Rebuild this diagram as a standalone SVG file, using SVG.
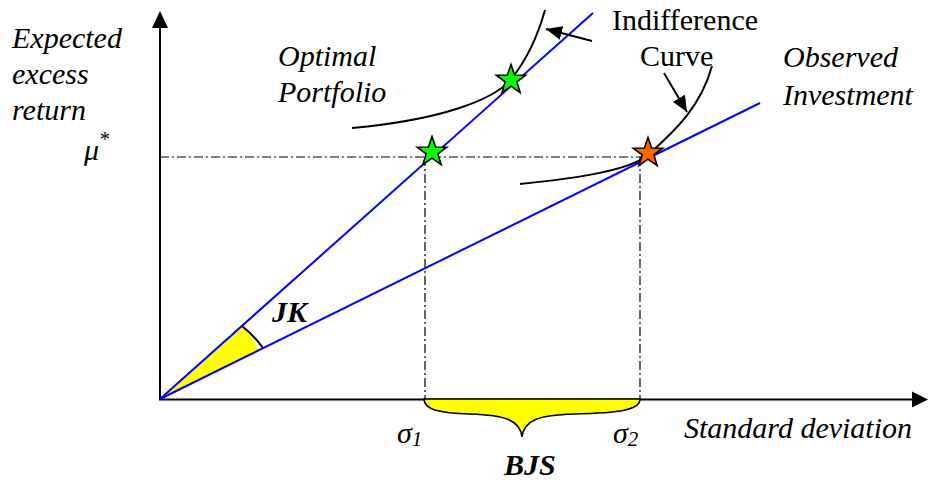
<svg xmlns="http://www.w3.org/2000/svg" xmlns:xlink="http://www.w3.org/1999/xlink" width="930" height="485" viewBox="0 0 930 485">
<style>
.it{font-style:italic}
.bi{font-style:italic;font-weight:bold}
.blue{stroke:#0000ff;stroke-width:2;fill:none}
.dd{stroke:#000;stroke-width:1.2;fill:none;stroke-dasharray:9 3 2 3}
.curve{stroke:#000;stroke-width:2;fill:none}
.star{stroke:#000;stroke-width:1.6;stroke-linejoin:miter}
</style>
<defs>
<path id="star" d="M0,-15.5 L3.64,-5.01 L14.74,-4.79 L5.9,1.92 L9.11,12.54 L0,6.2 L-9.11,12.54 L-5.9,1.92 L-14.74,-4.79 L-3.64,-5.01 Z"/>
<marker id="ah" viewBox="0 0 10 10" refX="10" refY="5" markerWidth="8" markerHeight="7" markerUnits="strokeWidth" orient="auto" preserveAspectRatio="none">
<path d="M0,0 L10,5 L0,10 Z" fill="#000"/>
</marker>
</defs>
<rect width="930" height="485" fill="#fff"/>
<g id="axes">
<line x1="160" y1="400" x2="160" y2="26" stroke="#000" stroke-width="2"/>
<path d="M160,11 L152,28 L168,28 Z" fill="#000"/>
<line x1="159" y1="399.5" x2="914" y2="399.5" stroke="#000" stroke-width="2"/>
<path d="M928,399.5 L912,391.5 L912,407.5 Z" fill="#000"/>
</g>
<g id="wedge">
<path d="M160,399 L242,326 A110,110 0 0 1 258.6,350.3 Z" fill="#ffff00"/>
<path d="M242,326 A110,110 0 0 1 263,348" fill="none" stroke="#000" stroke-width="2"/>
</g>
<g id="brace">
<path d="M424,399 C424,410 440,413 470,414 C505,415 520,420 522,437 C524,420 539,415 574,414 C620,413 640,410 640,399 Z" fill="#ffff00" stroke="#000" stroke-width="1.6"/>
</g>
<g id="connectors">
<line class="dd" x1="160" y1="157" x2="648" y2="157"/>
<line class="dd" x1="425" y1="157" x2="425" y2="399"/>
<line class="dd" x1="640" y1="157" x2="640" y2="399"/>
<line class="blue" x1="160" y1="399" x2="593" y2="13"/>
<line class="blue" x1="160" y1="399" x2="760" y2="103"/>
<path class="curve" d="M352,128 C440,120 495,100 512,78 C528,58 538,35 545,10"/>
<path class="curve" d="M520,184 C580,178 630,170 648,155 C670,135 700,110 712,66"/>
<line x1="592" y1="41" x2="546" y2="29" stroke="#000" stroke-width="2" marker-end="url(#ah)"/>
<line x1="664" y1="73" x2="687" y2="112" stroke="#000" stroke-width="2" marker-end="url(#ah)"/>
</g>
<g id="star1"><use xlink:href="#star" transform="translate(432,152)" fill="#00ff00" class="star"/></g>
<g id="star2"><use xlink:href="#star" transform="translate(511,80)" fill="#00ff00" class="star"/></g>
<g id="star3"><use xlink:href="#star" transform="translate(648,153)" fill="#ff6600" class="star"/></g>
<g id="labels" font-family="Liberation Serif, serif" font-size="30" fill="#000">
<text class="it" x="12" y="48">Expected</text>
<text class="it" x="12" y="84">excess</text>
<text class="it" x="12" y="120">return</text>
<text class="it" x="84" y="160">μ<tspan font-size="20" dy="-14">*</tspan></text>
<text class="it" x="278" y="66">Optimal</text>
<text class="it" x="278" y="102">Portfolio</text>
<text x="612" y="30">Indifference</text>
<text x="640" y="66">Curve</text>
<text class="it" x="783" y="67">Observed</text>
<text class="it" x="783" y="105">Investment</text>
<text class="bi" x="272" y="322">JK</text>
<text class="it" x="397" y="443">σ<tspan font-size="21" dy="3">1</tspan></text>
<text class="it" x="613" y="443">σ<tspan font-size="21" dy="3">2</tspan></text>
<text class="bi" x="504" y="475">BJS</text>
<text class="it" x="684" y="438">Standard deviation</text>
</g>
</svg>
